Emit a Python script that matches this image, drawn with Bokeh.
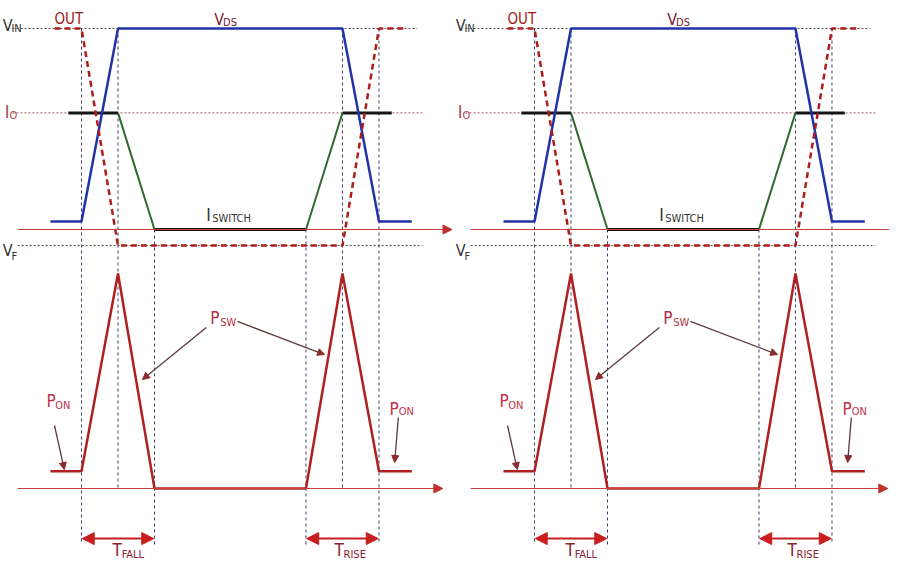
from bokeh.plotting import figure
from bokeh.models import Range1d, ColumnDataSource, Arrow, NormalHead
from bokeh.layouts import row
from bokeh.core.properties import value
from bokeh.embed import file_html
from bokeh.resources import INLINE

# ---- waveform data (normalised time units, normalised levels) ----
V_IN = 1.0
V_LOW = 0.04
V_F = -0.08
I_O = 0.58
P_ON = 0.08

vds_t = [-0.85, 0, 1, 7.15, 8.15, 9.05]
vds_v = [V_LOW, V_LOW, V_IN, V_IN, V_LOW, V_LOW]

out_t = [-0.74, 0, 1, 7.15, 8.15, 8.93]
out_v = [V_IN, V_IN, V_F, V_F, V_IN, V_IN]

i_flat_t0 = [-0.36, 2, 7.15]
i_flat_t1 = [1, 6.15, 8.5]
i_flat_v = [I_O, 0, I_O]
i_ramp_t0 = [1, 6.15]
i_ramp_t1 = [2, 7.15]
i_ramp_v0 = [I_O, 0]
i_ramp_v1 = [0, I_O]

p_t = [-0.85, 0, 1, 2, 6.15, 7.15, 8.15, 9.05]
p_v = [P_ON, P_ON, 1, 0, 0, 1, P_ON, P_ON]

# switching instants and the vertical guide lines through them
guide_t = [0, 1, 2, 6.15, 7.15, 8.15]
guide_top = [V_IN, V_IN, 0, 0, V_IN, V_IN]
guide_bot = [-1.567, -1.289, -1.567, -1.567, -1.289, -1.567]

ref_levels = [V_IN, I_O, V_F]
ref_t0 = [-1.89, -1.89, -1.75]
ref_t1 = [9.2, 9.34, 9.34]

FONT = value("DejaVu Sans Condensed, Liberation Sans Narrow, Liberation Sans, sans-serif")
RED = "#b01c1c"
MAROON = "#7a2030"


def make_panel(width, power_axis_end):
    x0 = -81 / 36.5
    p = figure(width=width, height=564, output_backend="svg", toolbar_location=None,
               x_range=Range1d(x0, x0 + width / 36.5),
               y_range=Range1d((237 - 572) / 201, (237 - 8) / 201),
               min_border=0, background_fill_color="white", border_fill_color="white")
    p.extra_y_ranges = {"power": Range1d((496 - 572) / 215, (496 - 8) / 215)}
    p.axis.visible = False
    p.grid.visible = False
    p.outline_line_color = None

    # reference dotted levels
    p.segment(x0=ref_t0, x1=ref_t1, y0=ref_levels, y1=ref_levels,
              line_color=["#555555", "#a05060", "#444444"], line_width=1, line_dash="2 2")

    # vertical guides
    p.segment(x0=guide_t, x1=guide_t, y0=guide_top, y1=guide_bot,
              line_color="#3a3a6a", line_width=1, line_dash="3 3")

    # time axes
    p.add_layout(Arrow(end=NormalHead(size=9, fill_color="#c03030", line_color="#c03030"),
                       x_start=-1.75, y_start=0, x_end=10.15, y_end=0,
                       line_color="#c84040", line_width=1))
    p.add_layout(Arrow(end=NormalHead(size=9, fill_color="#c03030", line_color="#c03030"),
                       x_start=-1.75, y_start=0, x_end=power_axis_end, y_end=0,
                       y_range_name="power", line_color="#c84040", line_width=1))

    # current
    p.segment(x0=i_flat_t0, x1=i_flat_t1, y0=i_flat_v, y1=i_flat_v,
              line_color="#151515", line_width=3)
    p.segment(x0=i_ramp_t0, x1=i_ramp_t1, y0=i_ramp_v0, y1=i_ramp_v1,
              line_color="#2f6a2f", line_width=2)

    # V_DS
    p.line(vds_t, vds_v, line_color="#2233aa", line_width=2.5)

    # OUT
    p.line(out_t, out_v, line_color=RED, line_width=2.5, line_dash="6 4")

    # power
    p.line(p_t, p_v, y_range_name="power", line_color="#b02020", line_width=2.5)

    # T arrows
    for a, b in [(guide_t[0], guide_t[2]), (guide_t[3], guide_t[5])]:
        p.add_layout(Arrow(start=NormalHead(size=12, fill_color="#c81e1e", line_color="#c81e1e"),
                           end=NormalHead(size=12, fill_color="#c81e1e", line_color="#c81e1e"),
                           x_start=a + 0.02, y_start=-0.233, x_end=b - 0.02, y_end=-0.233,
                           y_range_name="power", line_color="#c81e1e", line_width=2))

    # P_SW and P_ON pointers
    for xs, ys, xe, ye in [(3.42, 0.749, 1.67, 0.507), (4.27, 0.777, 6.66, 0.623),
                           (-0.74, 0.293, -0.47, 0.088), (8.68, 0.330, 8.58, 0.121)]:
        p.add_layout(Arrow(end=NormalHead(size=7, fill_color="#8a2a2a", line_color="#8a2a2a"),
                           x_start=xs, y_start=ys, x_end=xe, y_end=ye, y_range_name="power",
                           line_color="#5a3a3a", line_width=1.3))

    # labels: main range
    main = ColumnDataSource(dict(
        x=[-2.16, -0.74, 3.64, -2.10, 3.42, -2.16],
        y=[1.015, 1.045, 1.045, 0.587, 0.07, -0.104],
        text=["V", "OUT", "V", "I", "I", "V"],
        color=["#333333", "#a01818", MAROON, "#a04858", "#333333", "#333333"],
        size=["16px", "15px", "16px", "18px", "17px", "16px"],
    ))
    p.text(x="x", y="y", text="text", text_color="color", text_font_size="size",
           text_font=FONT, text_baseline="alphabetic", source=main)
    mains_sub = ColumnDataSource(dict(
        x=[-1.92, 3.88, -1.97, 3.58, -1.92],
        y=[1.0, 1.03, 0.567, 0.055, -0.134],
        text=["IN", "DS", "O", "SWITCH", "F"],
        color=["#333333", MAROON, "#a04858", "#333333", "#333333"],
    ))
    p.text(x="x", y="y", text="text", text_color="color", text_font_size="11px",
           text_font=FONT, text_baseline="alphabetic", source=mains_sub)

    # labels: power range
    pw = ColumnDataSource(dict(
        x=[3.53, -0.96, 8.44, 0.85, 6.93],
        y=[0.795, 0.405, 0.372, -0.288, -0.288],
        text=["P", "P", "P", "T", "T"],
        color=["#b03040", "#c03048", "#c03048", "#8a2030", "#8a2030"],
    ))
    p.text(x="x", y="y", text="text", text_color="color", text_font_size="17px",
           text_font=FONT, text_baseline="alphabetic", y_range_name="power", source=pw)
    pw_sub = ColumnDataSource(dict(
        x=[3.80, -0.72, 8.69, 1.10, 7.18],
        y=[0.772, 0.386, 0.358, -0.306, -0.306],
        text=["SW", "ON", "ON", "FALL", "RISE"],
        color=["#b03040", "#c03048", "#c03048", "#8a2030", "#8a2030"],
    ))
    p.text(x="x", y="y", text="text", text_color="color", text_font_size="11px",
           text_font=FONT, text_baseline="alphabetic", y_range_name="power", source=pw_sub)
    return p


p1 = make_panel(453, 9.9)
p2 = make_panel(436, 9.68)
layout = row(p1, p2)

open("out.html", "w").write(file_html(layout, INLINE))
